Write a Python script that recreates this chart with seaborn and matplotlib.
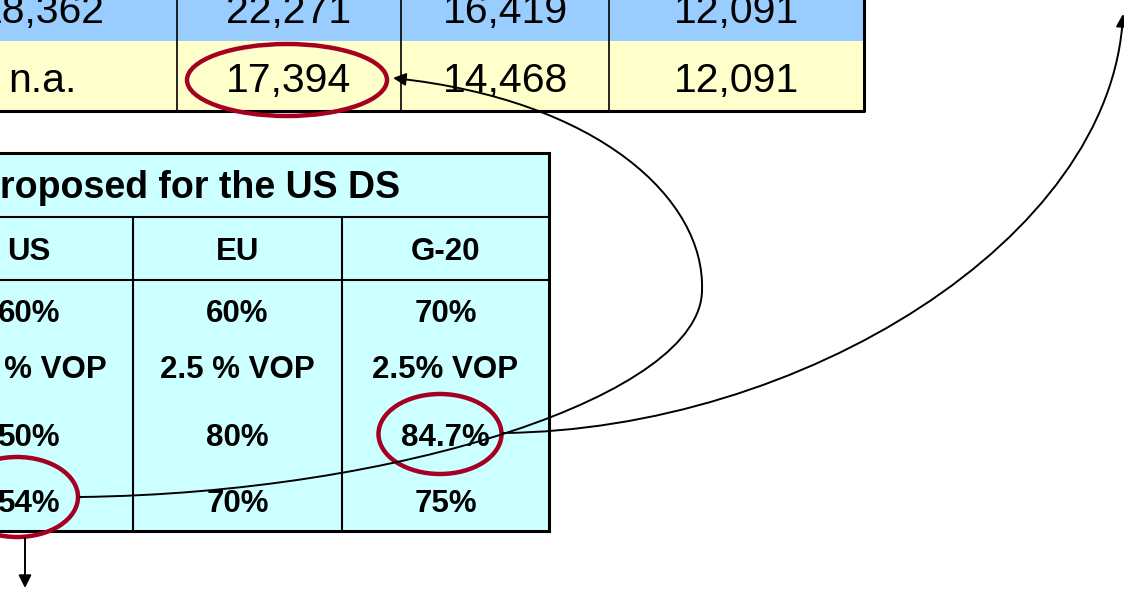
import numpy as np
import matplotlib.pyplot as plt
import seaborn as sns
from matplotlib.patches import Rectangle, Ellipse, FancyArrowPatch
from matplotlib.path import Path

# top table (clipped slide), two visible rows
top_row1 = ['18,362', '22,271', '16,419', '12,091']
top_row2 = ['n.a.', '17,394', '14,468', '12,091']

# lower table: thresholds proposed for the US DS
bottom_title = 'Proposed for the US DS'
bottom_header = ['US', 'EU', 'G-20']
bottom_rows = [
    ['60%', '60%', '70%'],
    ['2.5 % VOP', '2.5 % VOP', '2.5% VOP'],
    ['50%', '80%', '84.7%'],
    ['54%', '70%', '75%'],
]

# layout (pixel space of the slide crop)
top_edges = [-93, 177, 401, 609, 864]
top_row_y = [(-29, 41), (41, 111)]
top_text_y = [12, 81]
bot_edges = [-76, 133, 342, 549]
bot_title_y = (153, 217)
bot_head_y = (217, 280)
bot_bottom = 531
bot_row_centres = [312, 368, 436, 502]

BLUE = '#99CCFF'
YELLOW = '#FFFFCC'
CYAN = '#CCFFFF'
RED = '#A50021'

sns.set_theme(style='white')
plt.rcParams['font.family'] = ['Liberation Sans', 'DejaVu Sans']
plt.rcParams['text.color'] = 'black'

fig = plt.figure(figsize=(11.24, 5.89), dpi=100)
ax = fig.add_axes([0, 0, 1, 1])
ax.set_xlim(0, 1124)
ax.set_ylim(589, 0)
ax.axis('off')

# ---- top table
for (y0, y1), ty, colour, row in zip(top_row_y, top_text_y, [BLUE, YELLOW], [top_row1, top_row2]):
    ax.add_patch(Rectangle((top_edges[0], y0), top_edges[-1] - top_edges[0], y1 - y0,
                           facecolor=colour, edgecolor='none', zorder=1))
    for i, txt in enumerate(row):
        cx = (top_edges[i] + top_edges[i + 1]) / 2
        ax.text(cx, ty, txt, ha='center', va='center', fontsize=29.5, zorder=3)
for x in top_edges[1:-1]:
    ax.plot([x, x], [top_row_y[0][0], top_row_y[-1][1]], color='black', lw=1.2, zorder=2)
ax.plot([top_edges[0], top_edges[-1], top_edges[-1]],
        [top_row_y[-1][1], top_row_y[-1][1], top_row_y[0][0]], color='black', lw=2.2, zorder=2)

# ---- bottom table
ax.add_patch(Rectangle((bot_edges[0], bot_title_y[0]), bot_edges[-1] - bot_edges[0],
                       bot_bottom - bot_title_y[0], facecolor=CYAN, edgecolor='black',
                       lw=2.2, zorder=1))
ax.plot([bot_edges[0], bot_edges[-1]], [bot_head_y[0]] * 2, color='black', lw=1.5, zorder=2)
ax.plot([bot_edges[0], bot_edges[-1]], [bot_head_y[1]] * 2, color='black', lw=1.5, zorder=2)
for x in bot_edges[1:-1]:
    ax.plot([x, x], [bot_head_y[0], bot_bottom], color='black', lw=1.5, zorder=2)

ax.text(-25, sum(bot_title_y) / 2 + 3, bottom_title, ha='left', va='center',
        fontsize=27, fontweight='bold', zorder=3)
centres = [(bot_edges[i] + bot_edges[i + 1]) / 2 for i in range(3)]
centres[0] = 29
for cx, txt in zip(centres, bottom_header):
    ax.text(cx, sum(bot_head_y) / 2 + 3, txt, ha='center', va='center',
            fontsize=22.5, fontweight='bold', zorder=3)
for cy, row in zip(bot_row_centres, bottom_rows):
    for cx, txt in zip(centres, row):
        ax.text(cx, cy + 2, txt, ha='center', va='center', fontsize=22.5,
                fontweight='bold', zorder=3)

# ---- highlight ellipses
for (cx, cy, w, h) in [(287, 80, 200, 72), (440, 434, 123, 80), (17, 497, 122, 80)]:
    ax.add_patch(Ellipse((cx, cy), w, h, facecolor='none', edgecolor=RED, lw=3.2, zorder=5))


def connector(ctrl):
    # ctrl: chained cubic bezier control points (1 + 3k points)
    codes = [Path.MOVETO] + [Path.CURVE4] * (len(ctrl) - 1)
    path = Path(np.asarray(ctrl, float), codes)
    ax.add_patch(FancyArrowPatch(path=path, arrowstyle='-|>', mutation_scale=19,
                                 color='black', lw=1.4, zorder=6))


connector([(80, 497), (400, 493), (702, 395), (702, 290),
           (705, 200), (600, 100), (393, 78)])
connector([(503, 433), (800, 430), (1112, 240), (1123, 14)])
ax.add_patch(FancyArrowPatch((25, 538), (25, 588), arrowstyle='-|>', mutation_scale=19,
                             color='black', lw=1.4, zorder=6, shrinkA=0, shrinkB=0))

fig.savefig('out.png', dpi=100)
